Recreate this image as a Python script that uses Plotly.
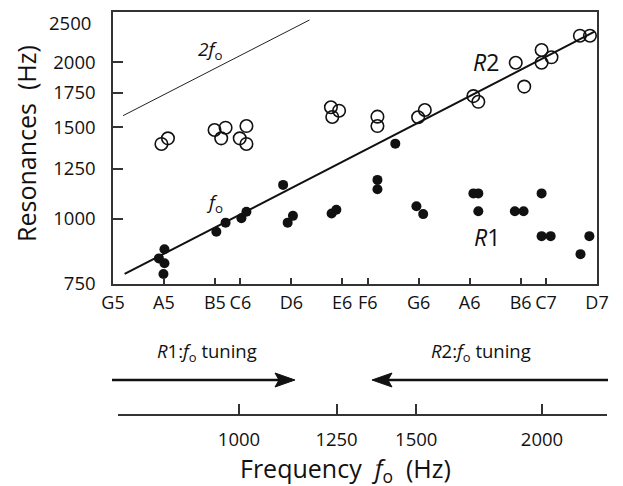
import math
import plotly.graph_objects as go

# ---------------- data ----------------
NOTE_NAMES = ["G5", "A5", "B5", "C6", "D6", "E6", "F6", "G6", "A6", "B6", "C7", "D7"]
NOTE_FREQS = [783.99, 880.00, 987.77, 1046.50, 1174.66, 1318.51, 1396.91,
              1567.98, 1760.00, 1975.53, 2093.00, 2349.32]
Y_TICKS = [750, 1000, 1250, 1500, 1750, 2000]
Y_TOP = 2500
HZ_TICKS = [1000, 1250, 1500, 2000]

# R2 (open circles)
r2_f0 = [875, 888, 987, 1002, 1012, 1045, 1061, 1061, 1285, 1309, 1289, 1428,
         1428, 1566, 1590, 1775, 1795, 1954, 1992, 2072, 2072, 2119, 2260, 2312]
r2_res = [1394, 1429, 1483, 1429, 1498, 1429, 1509, 1394, 1640, 1615, 1571, 1573,
          1509, 1569, 1620, 1723, 1680, 1997, 1797, 2113, 1997, 2046, 2251, 2251]

# R1 (filled circles)
r1_f0 = [870, 881, 881, 879, 991, 1012, 1049, 1061, 1153, 1165, 1179, 1287, 1301,
         1428, 1428, 1487, 1560, 1584, 1775, 1795, 1795, 1950, 1989, 2072, 2072,
         2115, 2263, 2309]
r1_res = [840, 875, 822, 784, 945, 984, 1003, 1033, 1163, 984, 1014, 1025, 1042,
          1189, 1141, 1396, 1058, 1022, 1120, 1120, 1035, 1035, 1035, 1120, 927,
          927, 856, 927]

# guide lines (end points)
f0_line_x = [805, 2336]
f0_line_y = [784, 2291]
twof0_line_x = [802, 1224]
twof0_line_y = [1580, 2413]

# ---------------- layout geometry ----------------
W, H = 623, 486
L, R, T, B = 113, 16, 12, 72
PW, PH = W - L - R, H - T - B


def px(x):
    return (x - L) / PW


def py(y):
    return (H - B - y) / PH


FONT = "Open Sans"
INK = "#111111"

fig = go.Figure()

fig.add_trace(go.Scatter(x=twof0_line_x, y=twof0_line_y, mode="lines",
                         line=dict(color="#222222", width=1), hoverinfo="skip",
                         showlegend=False))
fig.add_trace(go.Scatter(x=f0_line_x, y=f0_line_y, mode="lines",
                         line=dict(color=INK, width=2), hoverinfo="skip",
                         showlegend=False))
fig.add_trace(go.Scatter(x=r2_f0, y=r2_res, mode="markers", name="R2",
                         marker=dict(symbol="circle-open", size=12.5, color=INK,
                                     line=dict(width=1.6, color=INK)),
                         showlegend=False))
fig.add_trace(go.Scatter(x=r1_f0, y=r1_res, mode="markers", name="R1",
                         marker=dict(symbol="circle", size=10, color=INK),
                         showlegend=False))
# carrier trace for the lower frequency axis
fig.add_trace(go.Scatter(x=[], y=[], xaxis="x2", yaxis="y2", showlegend=False))

x_lo = math.log10(NOTE_FREQS[0])
x_hi = math.log10(NOTE_FREQS[-1])

# lower axis: 1000 Hz at 239 px, 2000 Hz at 542 px
k2 = (542 - 239) / math.log10(2)
x2_lo = 3 - (239 - 118) / k2
x2_hi = 3 + (W - R - 239) / k2

fig.update_layout(
    template="none",
    width=W, height=H,
    margin=dict(l=L, r=R, t=T, b=B, autoexpand=False),
    paper_bgcolor="white", plot_bgcolor="white",
    font=dict(family=FONT, size=18, color=INK),
    xaxis=dict(type="log", range=[x_lo, x_hi], domain=[0, px(597)], anchor="y",
               tickvals=NOTE_FREQS, ticktext=NOTE_NAMES, ticks="inside",
               ticklen=6, tickwidth=1.5, tickcolor="#333",
               showline=True, linecolor="#333", linewidth=1.5, mirror=True,
               showgrid=False, zeroline=False, ticklabelstandoff=2,
               automargin=False, tickfont=dict(size=18)),
    yaxis=dict(type="log", range=[math.log10(750), math.log10(Y_TOP)],
               domain=[py(284), 1], anchor="x",
               tickvals=Y_TICKS, ticktext=[str(v) for v in Y_TICKS],
               ticks="inside", ticklen=10, tickwidth=1.5, tickcolor="#333",
               showline=True, linecolor="#333", linewidth=1.5, mirror=True,
               showgrid=False, zeroline=False, ticklabelstandoff=12,
               automargin=False, tickfont=dict(size=18.5)),
    xaxis2=dict(type="log", range=[x2_lo, x2_hi], domain=[px(118), 1],
                anchor="y2", tickvals=HZ_TICKS,
                ticktext=[str(v) for v in HZ_TICKS], ticks="inside",
                ticklen=10, tickwidth=1.5, tickcolor="#333",
                showline=True, linecolor="#333", linewidth=2,
                showgrid=False, zeroline=False, ticklabelstandoff=8,
                automargin=False, tickfont=dict(size=18.5)),
    yaxis2=dict(domain=[0, 0.01], anchor="x2", visible=False, range=[0, 1],
                automargin=False),
)

ann = []


def text(x, y, s, size=18, xanchor="center", angle=0):
    ann.append(dict(x=px(x), y=py(y), xref="paper", yref="paper", text=s,
                    showarrow=False, xanchor=xanchor, yanchor="middle",
                    textangle=angle, font=dict(family=FONT, size=size, color=INK)))


text(93, 22, str(Y_TOP), xanchor="right", size=18.5)
text(210, 50, "<i>2f</i><sub>o</sub>", size=19)
text(214, 203, "<i>f</i><sub>o</sub>", size=19)
text(486, 62, "<i>R</i>2", size=23)
text(487, 237, "<i>R</i>1", size=23)
text(207, 352, "<i>R</i>1:<i>f</i><sub>o</sub> tuning", size=18.5)
text(481, 352, "<i>R</i>2:<i>f</i><sub>o</sub> tuning", size=18.5)
text(345, 469, "Frequency\u00a0 <i>f</i><sub>o</sub>\u00a0 (Hz)", size=25)
text(26, 144, "Resonances\u00a0 (Hz)", size=25, angle=-90)
fig.update_layout(annotations=ann)


def P(x, y):
    return f"{px(x):.5f},{py(y):.5f}"


shapes = []
# R1 arrow (pointing right)
shapes.append(dict(type="line", xref="paper", yref="paper",
                   x0=px(112), y0=py(380), x1=px(282), y1=py(380),
                   line=dict(color=INK, width=2.5)))
shapes.append(dict(type="path", xref="paper", yref="paper",
                   path=f"M{P(295,380)} L{P(275,373)} L{P(279,380)} L{P(275,387)} Z",
                   fillcolor=INK, line=dict(color=INK, width=1)))
# R2 arrow (pointing left)
shapes.append(dict(type="line", xref="paper", yref="paper",
                   x0=px(385), y0=py(380), x1=px(608), y1=py(380),
                   line=dict(color=INK, width=2.5)))
shapes.append(dict(type="path", xref="paper", yref="paper",
                   path=f"M{P(372,380)} L{P(392,373)} L{P(388,380)} L{P(392,387)} Z",
                   fillcolor=INK, line=dict(color=INK, width=1)))
fig.update_layout(shapes=shapes)

fig.write_html("out.html",
               config={"displayModeBar": False},
               post_script="document.body.style.margin='0px';"
                           "document.body.style.overflow='hidden';")
